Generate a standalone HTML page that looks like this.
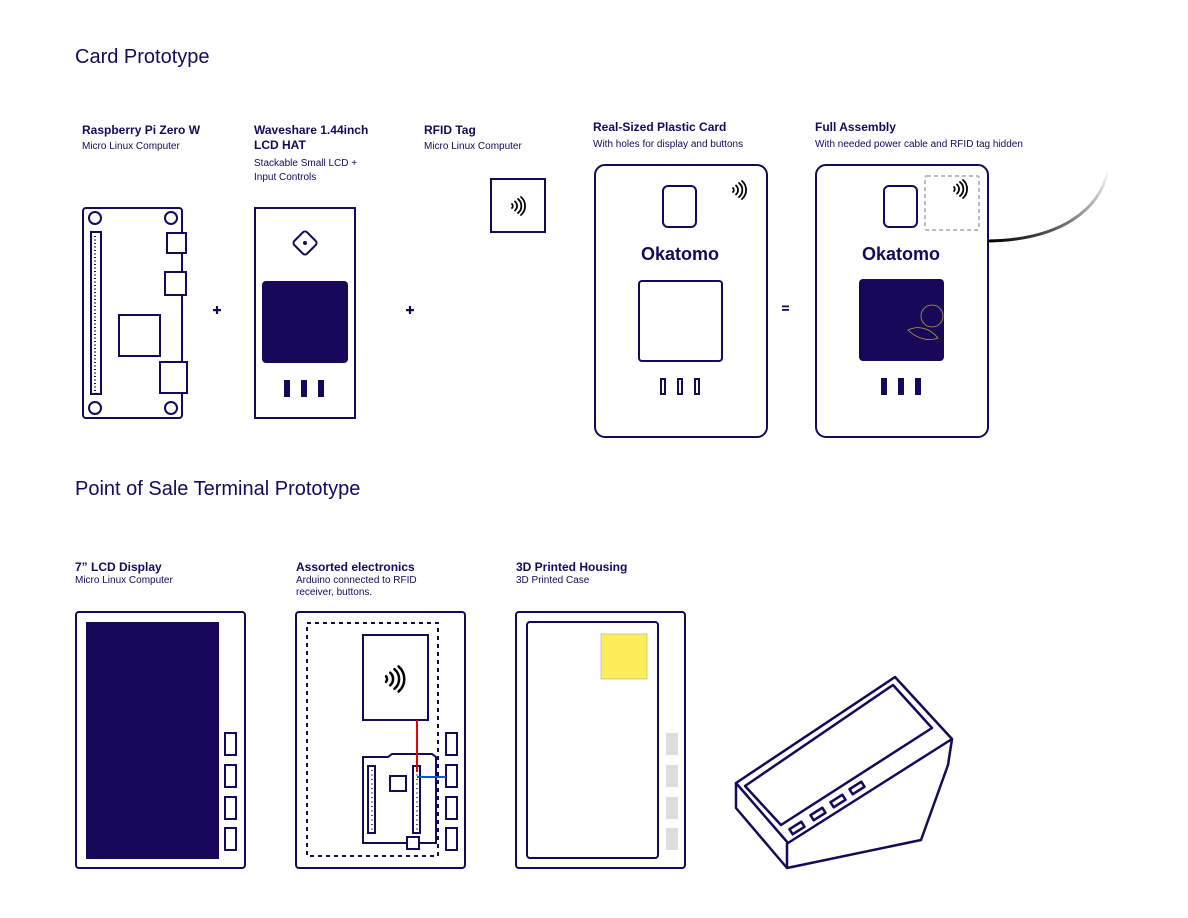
<!DOCTYPE html>
<html><head><meta charset="utf-8"><style>
html,body{margin:0;padding:0;background:#fff}
svg{display:block}
text{font-family:"Liberation Sans",sans-serif;fill:#17085a}
.t{font-size:20px}
.b{font-size:12px;font-weight:bold}
.s{font-size:10px}
</style></head><body>
<svg width="1188" height="918" viewBox="0 0 1188 918" xmlns="http://www.w3.org/2000/svg">
<defs>
<linearGradient id="cab" x1="0" y1="1" x2="1" y2="0">
<stop offset="0" stop-color="#000"/><stop offset="1" stop-color="#fff"/>
</linearGradient>
<g id="nfc" fill="none" stroke="#000" stroke-width="1.8" stroke-linecap="round">
<path d="M0,-2 a3,3 0 0 1 0,4"/><path d="M3,-4.5 a6,6 0 0 1 0,9"/><path d="M6,-7 a9,9 0 0 1 0,14"/><path d="M9,-9 a12,12 0 0 1 0,18"/>
</g>
</defs>
<text class="t" x="75" y="63">Card Prototype</text>
<text class="t" x="75" y="495">Point of Sale Terminal Prototype</text>

<text class="b" x="82" y="134">Raspberry Pi Zero W</text>
<text class="s" x="82" y="149">Micro Linux Computer</text>
<text class="b" x="254" y="134">Waveshare  1.44inch</text>
<text class="b" x="254" y="149">LCD HAT</text>
<text class="s" x="254" y="166">Stackable Small LCD +</text>
<text class="s" x="254" y="180">Input Controls</text>
<text class="b" x="424" y="134">RFID Tag</text>
<text class="s" x="424" y="149">Micro Linux Computer</text>
<text class="b" x="593" y="131">Real-Sized Plastic Card</text>
<text class="s" x="593" y="147">With holes for display and buttons</text>
<text class="b" x="815" y="131">Full Assembly</text>
<text class="s" x="815" y="147">With needed power cable and RFID tag hidden</text>

<g fill="none" stroke="#17085a" stroke-width="2">
<rect x="83" y="208" width="99" height="210" rx="3"/>
<circle cx="95" cy="218" r="6"/><circle cx="171" cy="218" r="6"/><circle cx="95" cy="408" r="6"/><circle cx="171" cy="408" r="6"/>
<rect x="91" y="232" width="10" height="162"/>
<rect x="167" y="233" width="19" height="20" fill="#fff"/>
<rect x="165" y="272" width="21" height="23" fill="#fff"/>
<rect x="119" y="315" width="41" height="41"/>
<rect x="160" y="362" width="27" height="31" fill="#fff"/>
<rect x="255" y="208" width="100" height="210"/>
<rect x="296" y="234" width="18" height="18" rx="3" transform="rotate(45 305 243)"/>
<rect x="491" y="179" width="54" height="53"/>
<rect x="595" y="165" width="172" height="272" rx="10"/>
<rect x="663" y="186" width="33" height="41" rx="5"/>
<rect x="639" y="281" width="83" height="80" rx="3"/>
<rect x="661" y="379" width="4" height="15"/><rect x="678" y="379" width="4" height="15"/><rect x="695" y="379" width="4" height="15"/>
<rect x="816" y="165" width="172" height="272" rx="10"/>
<rect x="884" y="186" width="33" height="41" rx="5"/>
<rect x="925" y="176" width="54" height="54" rx="2" stroke="#bbb" stroke-dasharray="4 3"/>
<rect x="76" y="612" width="169" height="256" rx="3"/>
<rect x="225" y="733" width="11" height="22"/><rect x="225" y="765" width="11" height="22"/><rect x="225" y="797" width="11" height="22"/><rect x="225" y="828" width="11" height="22"/>
<rect x="296" y="612" width="169" height="256" rx="3"/>
<rect x="307" y="623" width="131" height="233" stroke-dasharray="4 4"/>
<rect x="363" y="635" width="65" height="85"/>
<rect x="446" y="733" width="11" height="22"/><rect x="446" y="765" width="11" height="22"/><rect x="446" y="797" width="11" height="22"/><rect x="446" y="828" width="11" height="22"/>
<path d="M363,843 V757 h25 l4,-3 h40 l4,3 V843 Z"/>
<rect x="368" y="766" width="7" height="67"/><rect x="413" y="766" width="7" height="67"/>
<rect x="390" y="776" width="16" height="15"/>
<rect x="407" y="837" width="12" height="12" fill="#fff"/>
<rect x="516" y="612" width="169" height="256" rx="3"/>
<rect x="527" y="622" width="131" height="236" rx="3"/>
<g stroke-width="2.5" stroke-linejoin="round">
<path d="M736,783 L895,677 L952,739 L788,843 Z"/>
<path d="M745,786 L893,685 L932,728 L781,825 Z"/>
<path d="M736,783 V808 L787,868 V843"/>
<path d="M787,868 L921,840 L948,765 L952,739"/>
<rect x="-7" y="-3" width="14" height="6" transform="translate(797 828) rotate(-32)"/>
<rect x="-7" y="-3" width="14" height="6" transform="translate(818 814) rotate(-32)"/>
<rect x="-7" y="-3" width="14" height="6" transform="translate(838 801) rotate(-32)"/>
<rect x="-7" y="-3" width="14" height="6" transform="translate(857 788) rotate(-32)"/>
</g>
</g>
<g fill="#17085a">
<rect x="262" y="281" width="86" height="82" rx="4"/>
<rect x="284" y="380" width="6" height="17"/><rect x="301" y="380" width="6" height="17"/><rect x="318" y="380" width="6" height="17"/>
<rect x="859" y="279" width="85" height="82" rx="4"/>
<rect x="881" y="378" width="6" height="17"/><rect x="898" y="378" width="6" height="17"/><rect x="915" y="378" width="6" height="17"/>
<rect x="86" y="622" width="133" height="237"/>
<circle cx="305" cy="243" r="2"/>
<rect x="213" y="309" width="8" height="2.2"/><rect x="215.9" y="306" width="2.2" height="8"/>
<rect x="406" y="309" width="8" height="2.2"/><rect x="408.9" y="306" width="2.2" height="8"/>
<rect x="782" y="305.5" width="7" height="1.8"/><rect x="782" y="309" width="7" height="1.8"/>
</g>
<path d="M95,236 V392" stroke="#17085a" stroke-width="2" stroke-dasharray="1 2.5"/>
<path d="M372,770 V830 M417,770 V830" stroke="#17085a" stroke-width="1.5" stroke-dasharray="1 3.5"/>
<text x="680" y="260" text-anchor="middle" style="font-size:18px;font-weight:bold">Okatomo</text>
<text x="901" y="260" text-anchor="middle" style="font-size:18px;font-weight:bold">Okatomo</text>
<use href="#nfc" x="512" y="206"/>
<use href="#nfc" x="733" y="190"/>
<use href="#nfc" x="954" y="189"/>
<use href="#nfc" transform="translate(386 679) scale(1.4)"/>
<path d="M988,241 C1060,240 1100,210 1108,170" fill="none" stroke="url(#cab)" stroke-width="3"/>
<g fill="none" stroke="#b8a43a" stroke-width="0.8">
<circle cx="932" cy="316" r="11"/><path d="M908,330 c10,-5 22,-2 30,8 c-10,4 -22,0 -30,-8z"/>
</g>
<path d="M417,720 V772" stroke="#e00" stroke-width="2"/>
<path d="M417,777 H446" stroke="#1550e0" stroke-width="2"/>
<rect x="601" y="634" width="46" height="45" fill="#fcee5a" stroke="#999" stroke-width="0.5"/>
<g fill="#ddd"><rect x="666" y="733" width="12" height="22"/><rect x="666" y="765" width="12" height="22"/><rect x="666" y="797" width="12" height="22"/><rect x="666" y="828" width="12" height="22"/></g>

<text class="b" x="75" y="571">7” LCD Display</text>
<text class="s" x="75" y="583">Micro Linux Computer</text>
<text class="b" x="296" y="571">Assorted electronics</text>
<text class="s" x="296" y="583">Arduino connected to RFID</text>
<text class="s" x="296" y="595">receiver, buttons.</text>
<text class="b" x="516" y="571">3D Printed Housing</text>
<text class="s" x="516" y="583">3D Printed Case</text>
</svg>
</body></html>
